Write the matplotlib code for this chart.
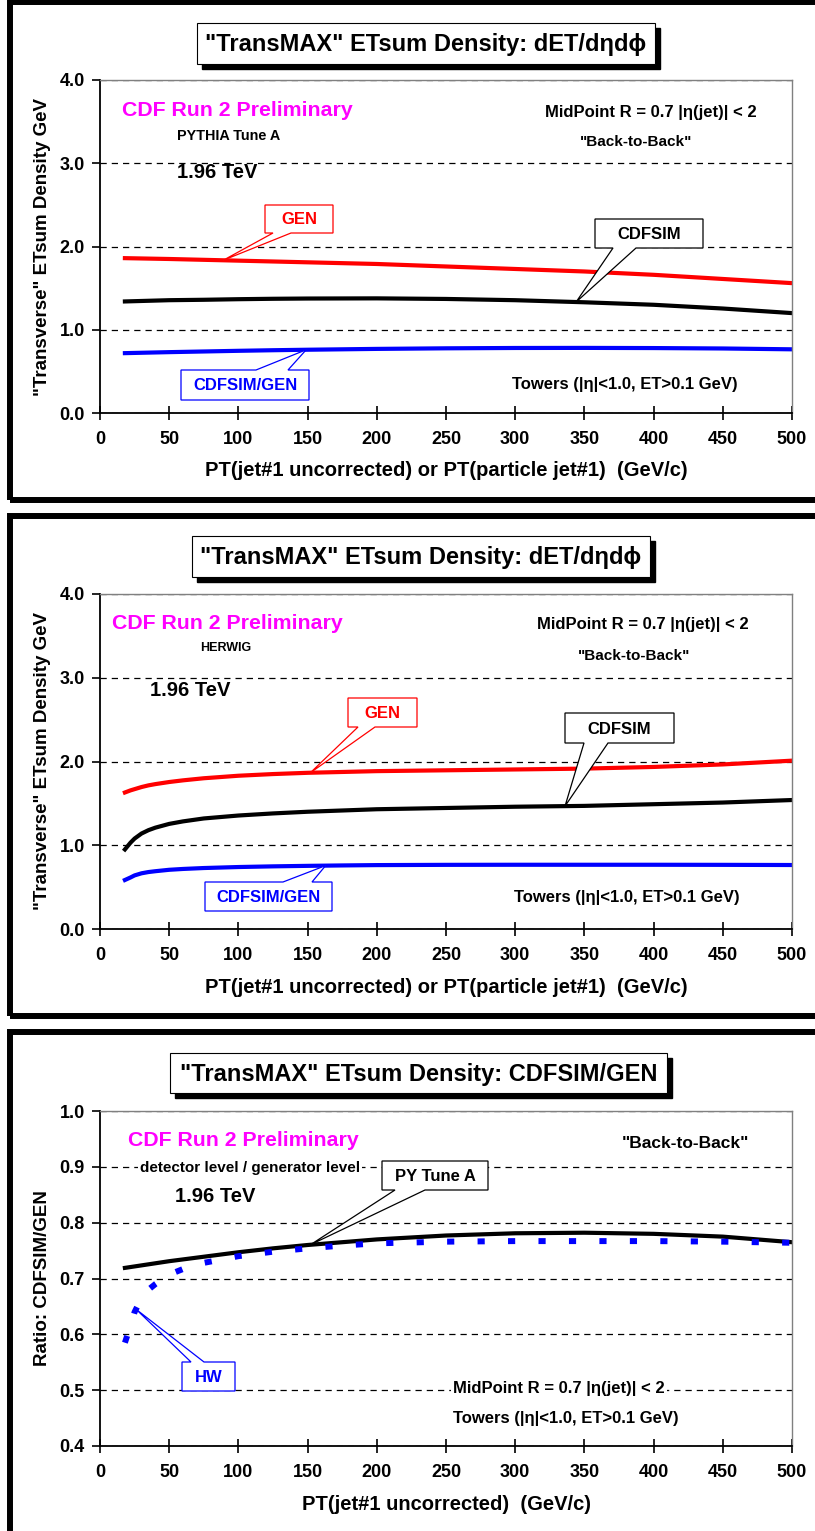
import numpy as np
import matplotlib
matplotlib.use("Agg")
import matplotlib.pyplot as plt
from matplotlib.patches import Rectangle, Polygon
from matplotlib.ticker import FormatStrFormatter

W, H = 815, 1531
plt.rcParams['font.family'] = ['Liberation Sans', 'DejaVu Sans']
plt.rcParams['font.weight'] = 'bold'
plt.rcParams['axes.labelweight'] = 'bold'

# PYTHIA Tune A, transverse max ETsum density vs leading jet pt
pt_py = [18, 50, 75, 100, 125, 150, 200, 250, 300, 350, 400, 450, 500]
gen_py = [1.86, 1.85, 1.84, 1.83, 1.82, 1.81, 1.79, 1.76, 1.73, 1.70, 1.66, 1.61, 1.56]
sim_py = [1.34, 1.355, 1.36, 1.367, 1.372, 1.375, 1.377, 1.37, 1.355, 1.33, 1.30, 1.255, 1.20]
ratio_py = [0.719, 0.731, 0.739, 0.747, 0.754, 0.760, 0.770, 0.777, 0.781, 0.782, 0.780, 0.775, 0.765]

# HERWIG
pt_hw = [18, 22, 25, 30, 35, 40, 50, 60, 75, 100, 125, 150, 175, 200, 250, 300, 350, 400, 450, 500]
gen_hw = [1.63, 1.655, 1.67, 1.695, 1.715, 1.73, 1.755, 1.775, 1.80, 1.83, 1.85, 1.865, 1.875,
          1.885, 1.895, 1.905, 1.915, 1.935, 1.965, 2.01]
sim_hw = [0.95, 1.03, 1.08, 1.14, 1.18, 1.21, 1.255, 1.285, 1.32, 1.355, 1.38, 1.40, 1.415,
          1.43, 1.445, 1.46, 1.47, 1.49, 1.51, 1.54]
ratio_hw = [0.585, 0.615, 0.64, 0.665, 0.68, 0.69, 0.707, 0.717, 0.728, 0.740, 0.748, 0.754, 0.759,
            0.763, 0.766, 0.767, 0.767, 0.767, 0.766, 0.764]

xticks = np.arange(0, 501, 50)
RED, BLUE, MAG = '#FF0000', '#0000FF', '#FF00FF'

fig = plt.figure(figsize=(W / 100, H / 100), dpi=100)


def fx(x):
    return x / W


def fy(y):
    return 1 - y / H


def frame(top, bottom):
    fig.add_artist(Rectangle((fx(10), fy(bottom)), fx(W + 40) - fx(10), fy(top) - fy(bottom),
                             transform=fig.transFigure, fill=False, ec='black', lw=4.3, zorder=0.5))


def title_box(x0, y0, x1, y1, s):
    fig.add_artist(Rectangle((fx(x0 + 5), fy(y1 + 5)), (x1 - x0) / W, (y1 - y0) / H,
                             transform=fig.transFigure, fc='black', ec='black', zorder=1))
    fig.add_artist(Rectangle((fx(x0), fy(y1)), (x1 - x0) / W, (y1 - y0) / H,
                             transform=fig.transFigure, fc='white', ec='black', lw=0.8, zorder=1.1))
    fig.text(fx((x0 + x1) / 2), fy((y0 + y1) / 2 + 1), s, ha='center', va='center', fontsize=17, zorder=2)


def make_axes(top, bottom, ylim, yticks, ylabel, xlabel):
    ax = fig.add_axes([fx(100), fy(bottom), (792 - 100) / W, (bottom - top) / H])
    ax.set_xlim(0, 500)
    ax.set_ylim(*ylim)
    ax.set_xticks(xticks)
    ax.set_yticks(yticks)
    ax.yaxis.set_major_formatter(FormatStrFormatter('%.1f'))
    ax.yaxis.grid(True, color='black', ls=(0, (5, 4)), lw=0.9)
    ax.set_axisbelow(True)
    for s in ['top', 'right']:
        ax.spines[s].set_color('#808080')
        ax.spines[s].set_linewidth(1.0)
    for s in ['left', 'bottom']:
        ax.spines[s].set_linewidth(1.3)
    ax.tick_params(axis='x', direction='inout', length=10, width=1.2, labelsize=13, pad=8)
    ax.tick_params(axis='y', direction='out', length=6, width=1.2, labelsize=13, pad=5)
    ax.set_ylabel(ylabel, fontsize=13.5, fontweight='bold')
    ax.yaxis.set_label_coords(-0.071, 0.5)
    ax.set_xlabel(xlabel, fontsize=14.5, fontweight='bold')
    ax.xaxis.set_label_coords(0.5, -0.145)
    return ax


def tip_px(ax, xs, ys, x):
    d = ax.transData.transform((x, np.interp(x, xs, ys)))
    return d[0], H - d[1]


def callout(s, color, box, base, tip, below=True):
    x0, y0, x1, y1 = box
    b1, b2 = base
    tx, ty = tip
    if below:
        pts = [(x0, y0), (x1, y0), (x1, y1), (b2, y1), (tx, ty), (b1, y1), (x0, y1)]
    else:
        pts = [(x0, y0), (b1, y0), (tx, ty), (b2, y0), (x1, y0), (x1, y1), (x0, y1)]
    fig.add_artist(Polygon([(fx(a), fy(b)) for a, b in pts], closed=True, transform=fig.transFigure,
                           fc='white', ec=color, lw=0.9, zorder=3))
    fig.text(fx((x0 + x1) / 2), fy((y0 + y1) / 2 + 1), s, color=color, ha='center', va='center',
             fontsize=12, zorder=4)


def label(x, y, s, size, color='black', bg=False):
    kw = {}
    if bg:
        kw['bbox'] = dict(boxstyle='square,pad=0.15', fc='white', ec='none')
    fig.text(fx(x), fy(y), s, ha='left', va='center', fontsize=size, color=color, zorder=2, **kw)


ylab = '"Transverse" ETsum Density GeV'
xlab = 'PT(jet#1 uncorrected) or PT(particle jet#1)  (GeV/c)'

# ---- PYTHIA Tune A ----
frame(2, 500)
title_box(197, 23, 655, 64, '"TransMAX" ETsum Density: dET/dηdϕ')
ax1 = make_axes(80, 413, (0, 4), np.arange(0, 4.01, 1.0), ylab, xlab)
ax1.plot(pt_py, gen_py, color=RED, lw=3)
ax1.plot(pt_py, sim_py, color='black', lw=3)
ax1.plot(pt_py, ratio_py, color=BLUE, lw=3)
label(122, 111, 'CDF Run 2 Preliminary', 15.3, MAG)
label(177, 136, 'PYTHIA Tune A', 10.4)
label(177, 172, '1.96 TeV', 14.5)
label(545, 112, 'MidPoint R = 0.7 |η(jet)| < 2', 12)
fig.text(fx(636), fy(142), '"Back-to-Back"', ha='center', va='center', fontsize=11)
label(512, 385, 'Towers (|η|<1.0, ET>0.1 GeV)', 12)
callout('GEN', RED, (265, 205, 333, 233), (273, 291), tip_px(ax1, pt_py, gen_py, 89))
callout('CDFSIM', 'black', (595, 219, 703, 248), (613, 636), tip_px(ax1, pt_py, sim_py, 344))
callout('CDFSIM/GEN', BLUE, (181, 370, 309, 400), (256, 288), tip_px(ax1, pt_py, ratio_py, 149), below=False)

# ---- HERWIG ----
frame(516, 1016)
title_box(192, 536, 650, 577, '"TransMAX" ETsum Density: dET/dηdϕ')
ax2 = make_axes(594, 929, (0, 4), np.arange(0, 4.01, 1.0), ylab, xlab)
ax2.plot(pt_hw, gen_hw, color=RED, lw=3)
ax2.plot(pt_hw, sim_hw, color='black', lw=3)
ax2.plot(pt_hw, ratio_hw, color=BLUE, lw=3)
label(112, 623, 'CDF Run 2 Preliminary', 15.3, MAG)
label(200, 648, 'HERWIG', 9)
label(150, 691, '1.96 TeV', 14.5)
label(537, 624, 'MidPoint R = 0.7 |η(jet)| < 2', 12)
fig.text(fx(634), fy(656), '"Back-to-Back"', ha='center', va='center', fontsize=11)
label(514, 897, 'Towers (|η|<1.0, ET>0.1 GeV)', 12)
callout('GEN', RED, (348, 698, 417, 727), (358, 375), tip_px(ax2, pt_hw, gen_hw, 152))
callout('CDFSIM', 'black', (565, 713, 674, 743), (584, 608), tip_px(ax2, pt_hw, sim_hw, 336))
callout('CDFSIM/GEN', BLUE, (205, 882, 332, 911), (283, 312), tip_px(ax2, pt_hw, ratio_hw, 163), below=False)

# ---- ratio CDFSIM/GEN ----
frame(1032, H + 40)
title_box(170, 1053, 667, 1093, '"TransMAX" ETsum Density: CDFSIM/GEN')
ax3 = make_axes(1111, 1446, (0.4, 1.0), np.arange(0.4, 1.001, 0.1), 'Ratio: CDFSIM/GEN',
                'PT(jet#1 uncorrected)  (GeV/c)')
ax3.plot(pt_py, ratio_py, color='black', lw=3)
ax3.plot(pt_hw, ratio_hw, color=BLUE, lw=4.3, ls=(0, (1.2, 3.9)))
label(128, 1140, 'CDF Run 2 Preliminary', 15.3, MAG)
label(140, 1168, 'detector level / generator level', 11, bg=True)
label(175, 1196, '1.96 TeV', 14.5)
label(622, 1143, '"Back-to-Back"', 12.5)
label(453, 1388, 'MidPoint R = 0.7 |η(jet)| < 2', 12, bg=True)
label(453, 1418, 'Towers (|η|<1.0, ET>0.1 GeV)', 12)
callout('PY Tune A', 'black', (382, 1161, 488, 1190), (395, 425), tip_px(ax3, pt_py, ratio_py, 152))
callout('HW', BLUE, (182, 1362, 235, 1391), (191, 204), tip_px(ax3, pt_hw, ratio_hw, 26), below=False)

fig.savefig('out.png', dpi=100)
